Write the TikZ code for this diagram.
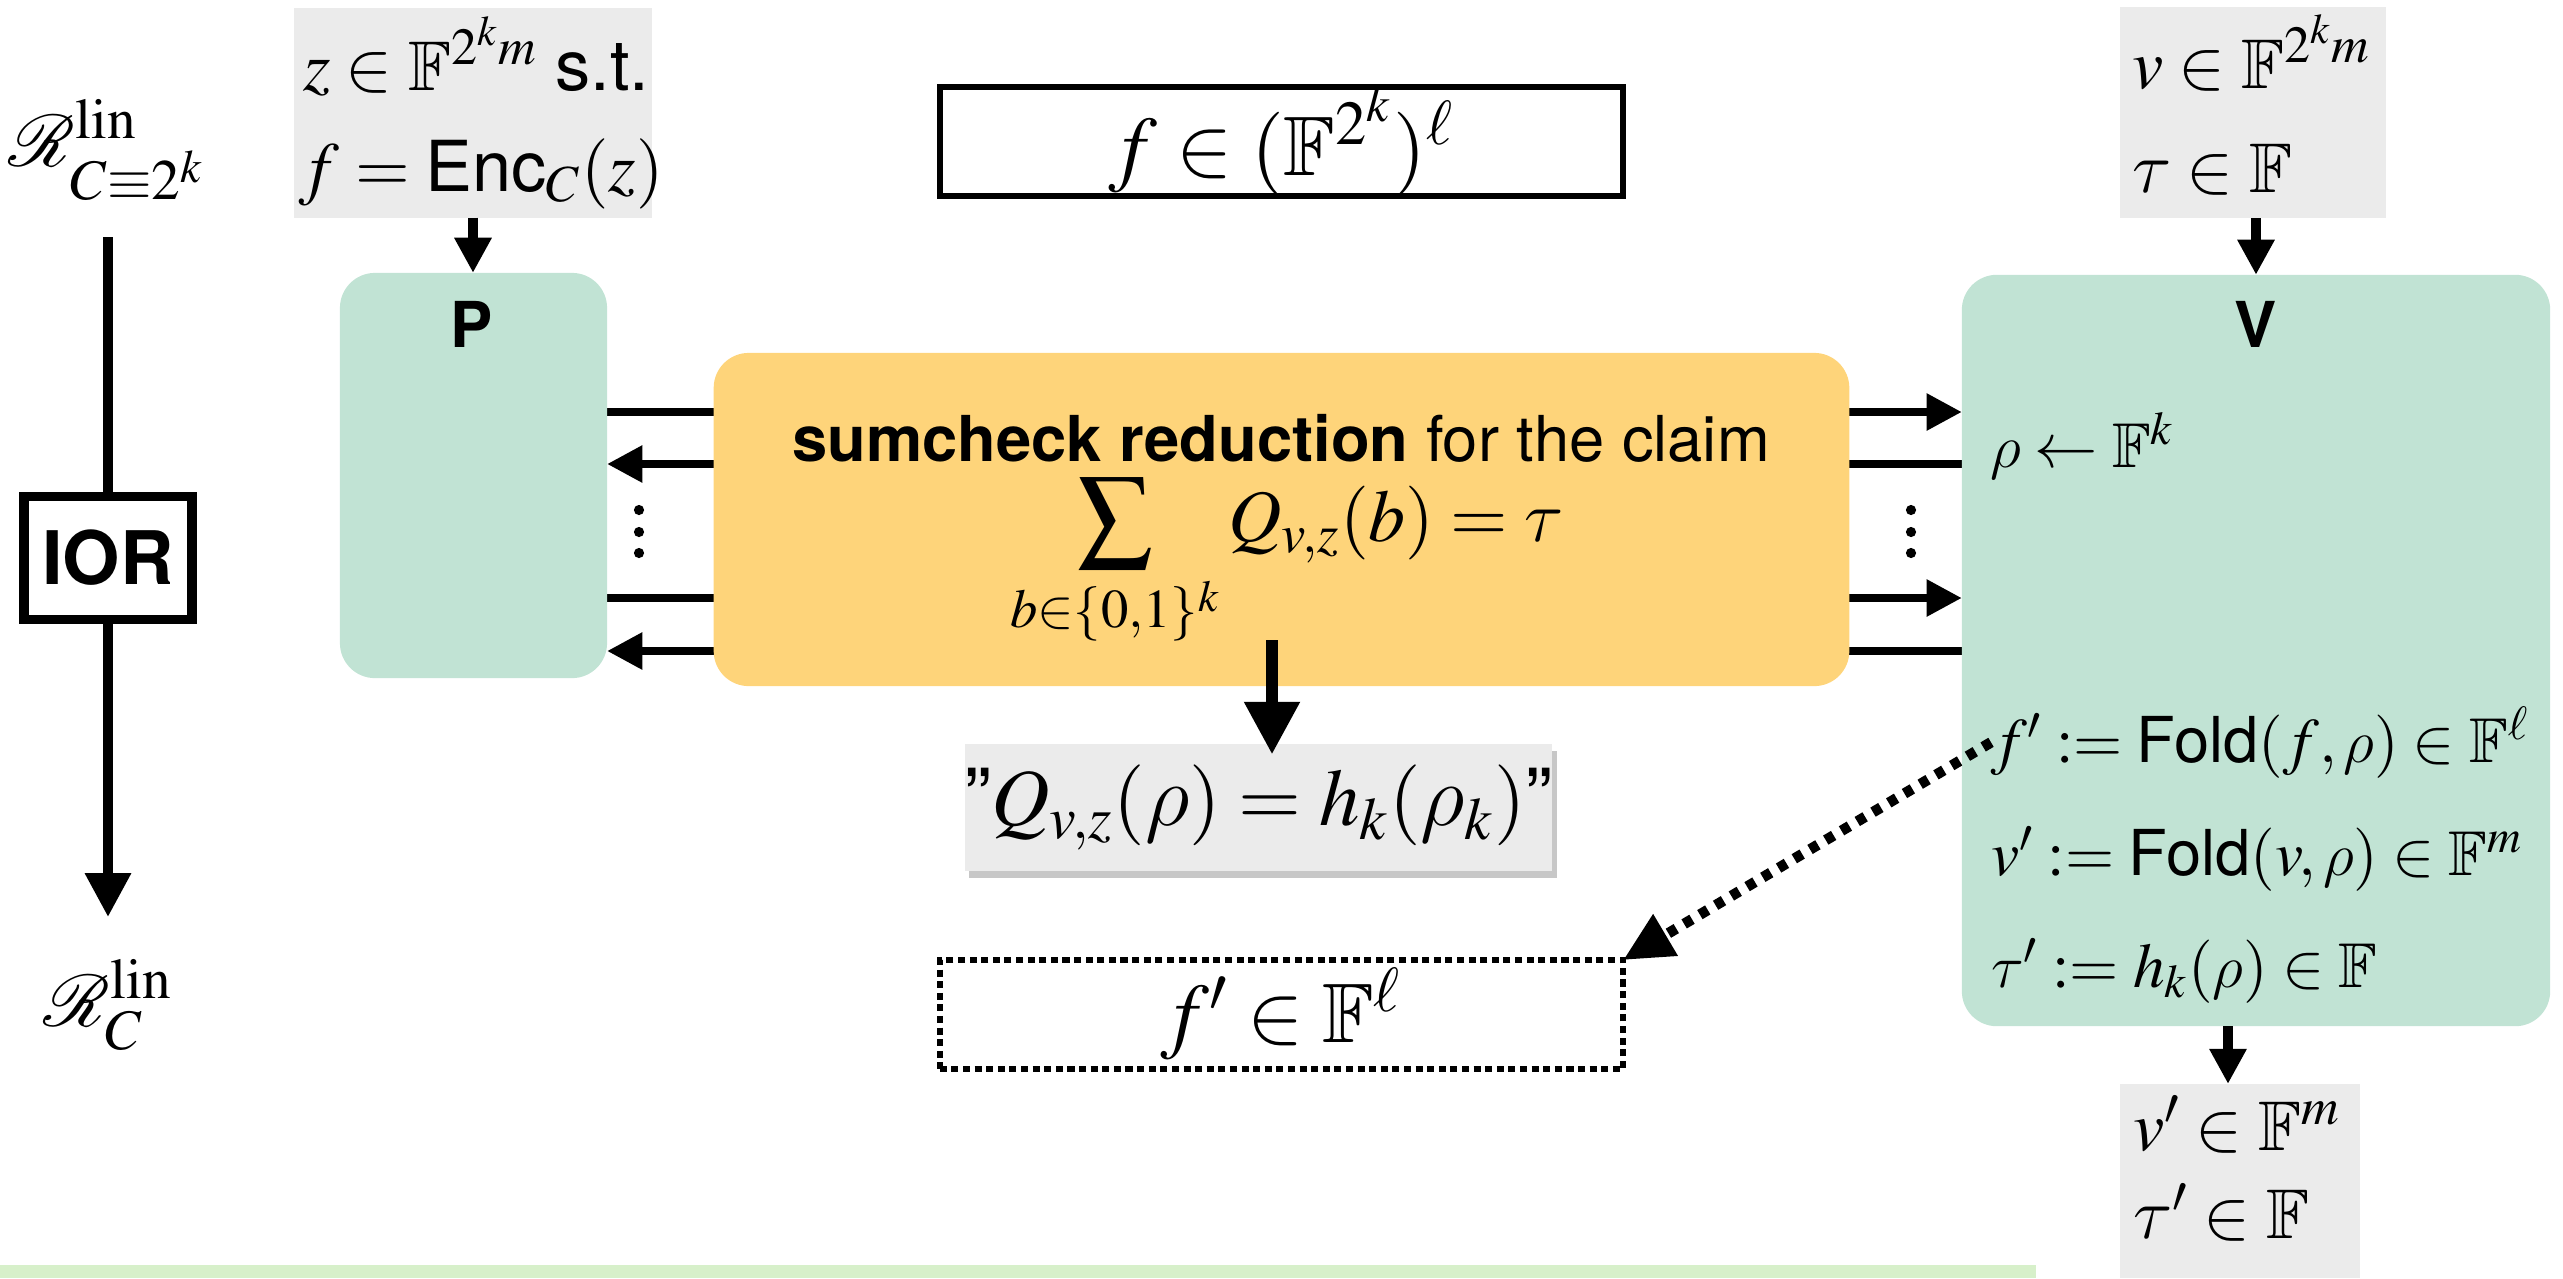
\documentclass[tikz,border=0pt]{standalone}
\usepackage{mathptmx}
\usepackage{amssymb}
\usepackage{mathrsfs}
\DeclareSymbolFont{cmlettersx}{OML}{cmm}{m}{it}
\DeclareMathSymbol{\rho}{\mathord}{cmlettersx}{"1A}
\DeclareMathSymbol{\tau}{\mathord}{cmlettersx}{"1C}
\usepackage{fontspec}
\setmainfont{Liberation Serif}
\setsansfont{TeX Gyre Heros}
\usetikzlibrary{arrows.meta,shadows}
\definecolor{pvgreen}{RGB}{193,227,212}
\definecolor{sumorange}{RGB}{254,212,122}
\definecolor{boxgrey}{RGB}{235,235,235}
\definecolor{stripgreen}{RGB}{215,240,202}
\pgfdeclarelayer{bg}
\pgfsetlayers{bg,main}
\newcommand{\sqquote}{\textsf{\char"22}}
\begin{document}
\begin{tikzpicture}[x=0.01cm,y=-0.01cm,
  every node/.style={inner sep=0pt,outer sep=0pt},
  greybox/.style={fill=boxgrey,draw=none,inner sep=0pt},
  party/.style={fill=pvgreen,draw=none,rounded corners=0.35cm,inner sep=0pt},
  msg/.style={line width=2.3pt,-{Triangle[length=10pt,width=10pt]}},
  feed/.style={line width=3pt,-{Triangle[length=10pt,width=10pt]}},
  bigarrow/.style={line width=3.5pt,-{Triangle[length=15pt,width=15pt]}},
  iorline/.style={line width=2.8pt},
  iorarrow/.style={line width=2.8pt,-{Triangle[length=12.5pt,width=12.5pt]}},
  dotarrow/.style={line width=3pt,dash pattern=on 2.6pt off 2.6pt,-{Triangle[length=14pt,width=13pt]}},
  vtext/.style={anchor=base west,font=\fontsize{18}{22}\selectfont},
  gtext/.style={anchor=base west,font=\fontsize{20}{24}\selectfont},
  partylabel/.style={font=\fontsize{18}{22}\selectfont\sffamily\bfseries},
]
\useasboundingbox (0,0) rectangle (2563,1278);

% left column
\node (Rtop) at (107,150) {\fontsize{22}{26}\selectfont $\mathscr{R}^{\mathrm{lin}}_{C\equiv 2^k}$};
\coordinate (ltop) at (108,237);
\node[draw,line width=2.8pt,minimum width=1.68cm,minimum height=1.23cm] (IOR) at (108,558) {\fontsize{21}{25}\selectfont\sffamily\bfseries IOR};
\coordinate (lbot) at (108,917);
\draw[iorline] (ltop) -- (IOR.north);
\draw[iorarrow] (IOR.south) -- (lbot);
\node (Rbot) at (108,1005) {\fontsize{22}{26}\selectfont $\mathscr{R}^{\mathrm{lin}}_{C}$};

% prover side
\node[greybox,minimum width=3.57cm,minimum height=2.09cm] (gin) at (473,113) {};
\node[gtext] (gin1) at (303,90) {$z\in\mathbb{F}^{2^k m}$ \textsf{s.t.}};
\node[gtext] (gin2) at (299,191) {$f=\textsf{Enc}_C(z)$};
\node[party,minimum width=2.67cm,minimum height=4.05cm] (P) at (473.5,475.5) {};
\node[partylabel] (Plab) at (472,324) {P};
\draw[feed] (gin.south) -- (gin.south |- P.north);

% top box
\node[draw,line width=1.8pt,minimum width=6.82cm,minimum height=1.07cm] (fbox) at (1281.5,141.5) {\fontsize{24}{28}\selectfont $f\in(\mathbb{F}^{2^k})^{\ell}$};

% verifier side
\node[party,minimum width=5.88cm,minimum height=7.51cm] (V) at (2256,650.5) {};
\node[partylabel] (Vlab) at (2256,324) {V};
\node[greybox,minimum width=2.66cm,minimum height=2.11cm] (gv) at (2253,112.5) {};
\node[gtext] (gv1) at (2132,88) {$v\in\mathbb{F}^{2^k m}$};
\node[gtext] (gv2) at (2132,192) {$\tau\in\mathbb{F}$};
\draw[feed] (Vlab |- gv.south) -- (Vlab |- V.north);
\node[vtext] (rho) at (1990,467) {$\rho\leftarrow\mathbb{F}^k$};
\node[vtext] (fp) at (1991,762) {$f'\mathrel{:=}\textsf{Fold}(f,\rho)\in\mathbb{F}^{\ell}$};
\node[vtext] (vp) at (1991,875) {$v'\mathrel{:=}\textsf{Fold}(v,\rho)\in\mathbb{F}^{m}$};
\node[vtext] (tp) at (1991,987) {$\tau'\mathrel{:=}h_k(\rho)\in\mathbb{F}$};
\node[greybox,minimum width=2.4cm,minimum height=1.94cm] (gout) at (2240,1181) {};
\node[gtext] (gout1) at (2133,1150) {$v'\in\mathbb{F}^m$};
\node[gtext] (gout2) at (2133,1238) {$\tau'\in\mathbb{F}$};
\coordinate (vout) at (2228,0);
\draw[feed] (vout |- V.south) -- (vout |- gout.north);

% sumcheck box
\node[fill=sumorange,rounded corners=0.35cm,minimum width=11.35cm,minimum height=3.33cm] (sc) at (1281.5,519.5) {};
\node[anchor=base,font=\fontsize{18}{22}\selectfont\sffamily] (sc1) at (1281,461) {\textbf{sumcheck reduction} for the claim};
\node (sc2) at (1287,563) {\fontsize{21}{25}\selectfont $\displaystyle\sum_{b\in\{0,1\}^k} Q_{v,z}(b)=\tau$};

% messages
\begin{pgfonlayer}{bg}
\draw[msg] (P.east |- 0,412) -- (V.west |- 0,412);
\draw[msg] (V.west |- 0,464) -- (P.east |- 0,464);
\draw[msg] (P.east |- 0,598) -- (V.west |- 0,598);
\draw[msg] (V.west |- 0,651) -- (P.east |- 0,651);
\end{pgfonlayer}
\foreach \yy in {510,532,553} {
  \fill (639,\yy) circle[radius=1.45pt];
  \fill (1911,\yy) circle[radius=1.45pt];
}

% claim and output
\node[greybox,drop shadow={shadow xshift=1.2pt,shadow yshift=-2pt,opacity=0.22,fill=black},minimum width=5.65cm,minimum height=1.27cm] (claim) at (1258.5,807.5) {\fontsize{23}{27}\selectfont\sqquote$Q_{v,z}(\rho)=h_k(\rho_k)$\sqquote};
\coordinate (scdown) at (1272,640);
\draw[bigarrow,shorten >=-3pt] (scdown) -- (scdown |- claim.north);
\node[draw,dash pattern=on 2pt off 1.3pt,line width=1.8pt,minimum width=6.83cm,minimum height=1.09cm] (fpbox) at (1281.5,1014.5) {\fontsize{24}{28}\selectfont $f'\in\mathbb{F}^{\ell}$};
\draw[dotarrow] (fp.west) -- (fpbox.north east);

% bottom strip
\fill[stripgreen] (0,1265) rectangle (2036,1278);
\end{tikzpicture}
\end{document}
